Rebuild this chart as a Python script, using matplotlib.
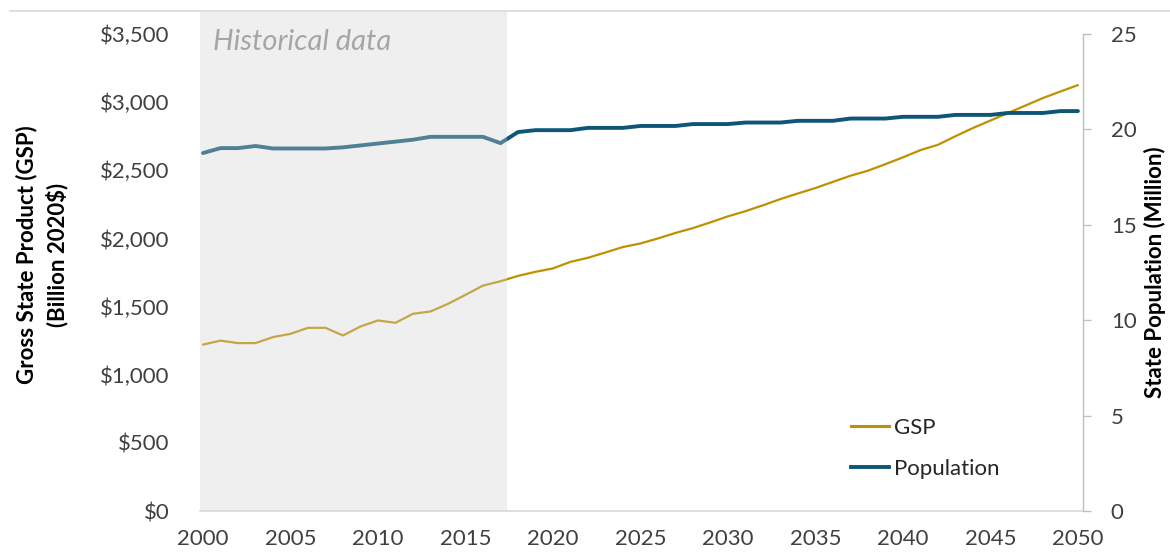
import matplotlib
matplotlib.use("Agg")
import matplotlib.pyplot as plt
import matplotlib.transforms as mtransforms
from matplotlib.lines import Line2D
from matplotlib.patches import Rectangle
from matplotlib.ticker import FuncFormatter

plt.rcParams['font.family'] = ['Lato', 'DejaVu Sans']

years = list(range(2000, 2051))

gsp = [1221, 1250, 1232, 1232, 1276, 1300, 1344, 1344, 1288, 1354,
       1398, 1381, 1447, 1464, 1520, 1586, 1654, 1686, 1725, 1755,
       1780, 1828, 1858, 1897, 1937, 1963, 2000, 2040, 2076, 2118,
       2162, 2200, 2243, 2289, 2330, 2370, 2415, 2460, 2497, 2545,
       2595, 2648, 2687, 2750, 2810, 2865, 2920, 2975, 3030, 3078,
       3125]

population = [18.76, 19.02, 19.02, 19.13, 19.00, 19.00, 19.00, 19.00, 19.06, 19.16,
              19.26, 19.36, 19.46, 19.61, 19.61, 19.61, 19.61, 19.28, 19.86, 19.96,
              19.96, 19.96, 20.08, 20.08, 20.08, 20.18, 20.18, 20.18, 20.28, 20.28,
              20.28, 20.36, 20.36, 20.36, 20.45, 20.45, 20.45, 20.57, 20.57, 20.57,
              20.66, 20.66, 20.66, 20.76, 20.76, 20.76, 20.86, 20.86, 20.86, 20.96,
              20.96]

x_ticks = list(range(2000, 2051, 5))
gsp_ticks = list(range(0, 3501, 500))
pop_ticks = [0, 5, 10, 15, 20, 25]
hist_start, hist_end = 1999.8, 2017.4

gsp_color = '#BF9000'
pop_color = '#0E5677'
tick_color = '#404040'

W, H = 1170, 556
fig = plt.figure(figsize=(W / 100, H / 100), dpi=100)

left, right, bottom, top = 199.5, 1083, 511, 34
ax = fig.add_axes([left / W, (H - bottom) / H, (right - left) / W, (bottom - top) / H])
ax2 = ax.twinx()

ax.plot(years, gsp, color=gsp_color, lw=1.6, zorder=2, solid_capstyle='round')
ax2.plot(years, population, color=pop_color, lw=2.8, zorder=2, solid_capstyle='round')

# shaded historical band drawn on top of lines (washes them out)
trans = mtransforms.blended_transform_factory(ax2.transData, ax2.transAxes)
ax2.add_patch(Rectangle((hist_start, 0), hist_end - hist_start, 1 + 23 / (bottom - top),
                        transform=trans, facecolor='#D2D2D2', alpha=0.34,
                        edgecolor='none', zorder=5, clip_on=False))
ax2.text(2000.55, 1 - 8 / (bottom - top), 'Historical data', transform=trans,
         fontsize=21, style='italic', color='#A6A6A6', va='center', ha='left',
         zorder=6)

ax.set_xlim(1999.8, 2050.29)
ax.set_ylim(0, 3500)
ax2.set_ylim(0, 25)

ax.set_xticks(x_ticks)
ax.set_yticks(gsp_ticks)
ax2.set_yticks(pop_ticks)
ax.yaxis.set_major_formatter(FuncFormatter(lambda v, p: f'${v:,.0f}'))

ax.tick_params(axis='x', length=0, pad=13, labelsize=16, colors=tick_color)
ax.tick_params(axis='y', length=0, pad=21.5, labelsize=16, colors=tick_color)
ax2.tick_params(axis='y', length=6, width=1, color='#BFBFBF', pad=14,
                labelsize=16, labelcolor=tick_color)

for a in (ax, ax2):
    for s in ('top', 'left', 'right', 'bottom'):
        a.spines[s].set_visible(False)
ax.spines['bottom'].set_visible(True)
ax.spines['bottom'].set_color('#D9D9D9')
ax.spines['bottom'].set_linewidth(1.2)
ax2.spines['right'].set_visible(True)
ax2.spines['right'].set_color('#BFBFBF')
ax2.spines['right'].set_linewidth(1.0)

# left axis title as two centred lines
label_y = (H - 255) / H
fig.text(27 / W, label_y, 'Gross State Product (GSP)', rotation=90, fontsize=16,
         fontweight='bold', ha='center', va='center', color='#000000')
fig.text(57 / W, label_y, '(Billion 2020$)', rotation=90, fontsize=16,
         fontweight='bold', ha='center', va='center', color='#000000')

ax2.set_ylabel('State Population (Million)', fontsize=16, fontweight='bold',
               color='#000000')
ax2.yaxis.set_label_coords(1 + 61 / (right - left), 0.5)

handles = [Line2D([], [], color=gsp_color, lw=2.2),
           Line2D([], [], color=pop_color, lw=2.8)]
fig.legend(handles, ['GSP', 'Population'], loc='upper left', frameon=False,
           bbox_to_anchor=(840 / W, (H - 407) / H), borderpad=0,
           handlelength=1.7, handletextpad=0.22, labelspacing=0.95,
           fontsize=16, labelcolor='#262626')

fig.add_artist(Line2D([10 / W, 1], [(H - 11) / H] * 2, color='#D9D9D9', lw=1.2))

fig.savefig('out.png', dpi=100, facecolor='white')
